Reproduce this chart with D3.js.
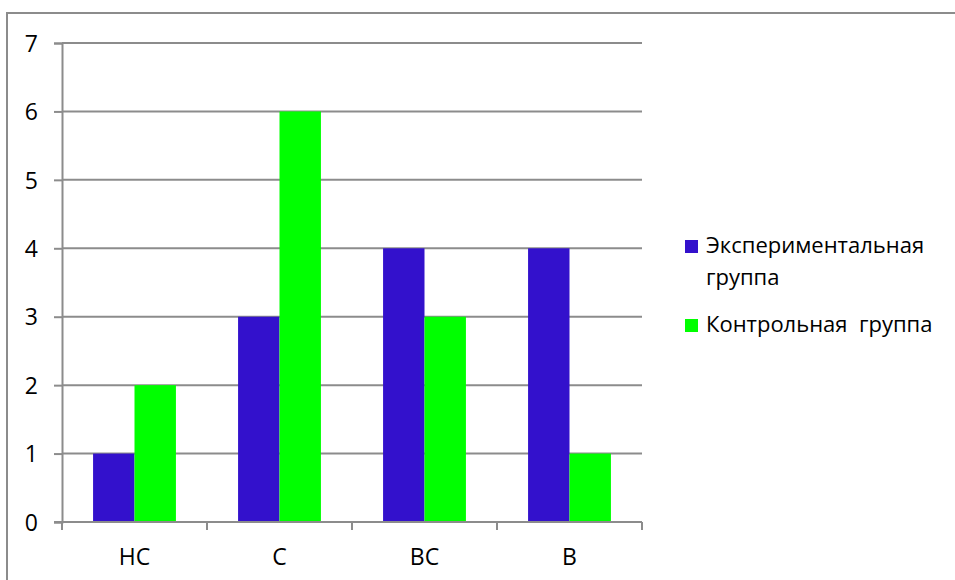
<!DOCTYPE html>
<html>
<head>
<meta charset="utf-8">
<script src="https://cdn.jsdelivr.net/npm/d3@7"></script>
<style>
  html, body { margin: 0; padding: 0; background: #fff; }
  svg { display: block; }
  text { font-family: "Open Sans", "Noto Sans", sans-serif; fill: #000; }
</style>
</head>
<body>
<svg id="chart" width="955" height="580"></svg>
<script>
// Grades by group
const categories = ["НС", "С", "ВС", "В"];
const experimental = [1, 3, 4, 4];
const control = [2, 6, 3, 1];
const seriesNames = ["Экспериментальная группа", "Контрольная  группа"];
const yTicks = [0, 1, 2, 3, 4, 5, 6, 7];

const colors = ["#3311CC", "#00FF00"];
const gridColor = "#8c8c8c";

const svg = d3.select("#chart");
const plot = { left: 62, right: 642, top: 43, bottom: 522 };

// outer chart frame
svg.append("rect")
  .attr("x", 7).attr("y", 13)
  .attr("width", 970).attr("height", 600)
  .attr("fill", "none").attr("stroke", gridColor).attr("stroke-width", 2);

const x = d3.scaleBand().domain(categories).range([plot.left, plot.right]).paddingInner(0).paddingOuter(0);
const inner = d3.scaleBand().domain([0, 1]).range([0, x.bandwidth()]).paddingOuter(0.75).paddingInner(0);
const y = d3.scaleLinear().domain([0, 7]).range([plot.bottom, plot.top]);

// horizontal gridlines
svg.append("g")
  .selectAll("line")
  .data(yTicks.filter(d => d > 0))
  .join("line")
  .attr("x1", plot.left).attr("x2", plot.right)
  .attr("y1", d => y(d)).attr("y2", d => y(d))
  .attr("stroke", gridColor).attr("stroke-width", 2);

// bars
const series = [experimental, control];
series.forEach((vals, si) => {
  svg.append("g")
    .selectAll("rect")
    .data(vals)
    .join("rect")
    .attr("x", (d, i) => x(categories[i]) + inner(si))
    .attr("width", inner.bandwidth())
    .attr("y", d => y(d))
    .attr("height", d => y(0) - y(d))
    .attr("fill", colors[si]);
});

// y axis
const yAxis = svg.append("g")
  .attr("transform", `translate(${plot.left},0)`)
  .call(d3.axisLeft(y).tickValues(yTicks).tickSize(8).tickPadding(16).tickFormat(d3.format("d")));
yAxis.select(".domain").attr("stroke", gridColor).attr("stroke-width", 2);
yAxis.selectAll(".tick line").attr("stroke", gridColor).attr("stroke-width", 2);
yAxis.selectAll(".tick text").attr("font-size", 23).attr("dy", "0.36em").style("font-family", "'Open Sans', sans-serif");

// x axis with ticks on category boundaries
const xAxisG = svg.append("g").attr("transform", `translate(0,${plot.bottom})`);
xAxisG.append("line")
  .attr("x1", plot.left - 8).attr("x2", plot.right)
  .attr("stroke", gridColor).attr("stroke-width", 2);
const bounds = categories.map(c => x(c)).concat([x(categories[categories.length - 1]) + x.bandwidth()]);
xAxisG.selectAll("line.tick")
  .data(bounds)
  .join("line")
  .attr("class", "tick")
  .attr("x1", d => d).attr("x2", d => d)
  .attr("y1", 0).attr("y2", 8)
  .attr("stroke", gridColor).attr("stroke-width", 2);
xAxisG.selectAll("text")
  .data(categories)
  .join("text")
  .attr("x", d => x(d) + x.bandwidth() / 2)
  .attr("y", 43)
  .attr("text-anchor", "middle")
  .attr("font-size", 23)
  .text(d => d);

// legend
const legend = svg.append("g");
const legendItems = [
  { lines: ["Экспериментальная", "группа"], base: 253 },
  { lines: [seriesNames[1]], base: 332 }
];
legendItems.forEach((it, i) => {
  legend.append("rect")
    .attr("x", 685).attr("y", it.base - 13)
    .attr("width", 13).attr("height", 13)
    .attr("fill", colors[i]);
  it.lines.forEach((ln, j) => {
    legend.append("text")
      .attr("x", 706).attr("y", it.base + j * 32)
      .attr("font-size", 22)
      .attr("xml:space", "preserve")
      .style("white-space", "pre")
      .text(ln);
  });
});
</script>
</body>
</html>
